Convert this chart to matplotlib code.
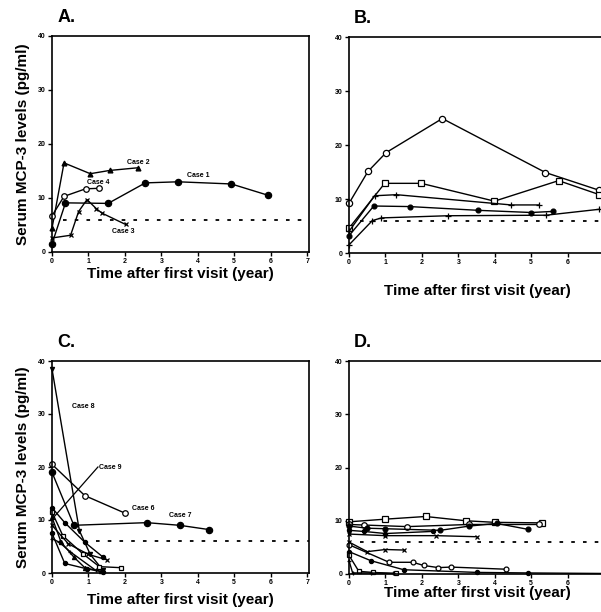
import matplotlib
matplotlib.use("Agg")
import matplotlib.pyplot as plt

plt.rcParams['font.family'] = ['Liberation Sans', 'DejaVu Sans']
plt.rcParams['font.weight'] = 'bold'

# ---- data (years, pg/ml) ----
normal_level = 6.0

# panel A
a_case1_x = [0, 0.37, 1.54, 2.56, 3.46, 4.92, 5.93]
a_case1_y = [1.5, 9.1, 9.0, 12.8, 13.0, 12.6, 10.5]
a_case2_x = [0, 0.33, 1.05, 1.58, 2.36]
a_case2_y = [4.4, 16.5, 14.5, 15.1, 15.6]
a_case3_x = [0, 0.51, 0.73, 0.96, 1.22, 1.37, 2.02]
a_case3_y = [2.6, 3.1, 7.5, 9.7, 8.0, 7.2, 5.1]
a_case4_x = [0, 0.33, 0.92, 1.3]
a_case4_y = [6.7, 10.3, 11.7, 11.8]

# panel B
b1_x = [0, 0.52, 1.02, 2.56, 5.39, 6.87]
b1_y = [9.2, 15.1, 18.6, 24.9, 14.9, 11.6]
b2_x = [0, 0.98, 1.98, 3.99, 5.75, 6.87]
b2_y = [4.6, 12.9, 12.9, 9.6, 13.4, 10.8]
b3_x = [0, 0.7, 1.3, 4.45, 5.2]
b3_y = [4.0, 10.6, 10.8, 8.9, 8.9]
b4_x = [0, 0.68, 1.66, 3.55, 5.0, 5.59]
b4_y = [3.2, 8.7, 8.6, 7.9, 7.5, 7.7]
b5_x = [0, 0.64, 0.89, 2.71, 5.41, 6.87]
b5_y = [1.5, 6.0, 6.5, 6.9, 7.0, 8.1]

# panel C
c_case8_x = [0, 0.75, 1.05, 1.4]
c_case8_y = [38.5, 8.0, 3.5, 0.5]
c_case6_x = [0, 0.9, 2.0]
c_case6_y = [20.5, 14.6, 11.3]
c_case7_x = [0, 0.6, 2.6, 3.5, 4.3]
c_case7_y = [19.0, 9.0, 9.5, 9.0, 8.2]
c4_x = [0, 0.35, 0.9, 1.4]
c4_y = [12.3, 9.5, 5.8, 3.0]
c5_x = [0, 0.3, 0.85, 1.3, 1.9]
c5_y = [11.5, 7.0, 3.6, 1.2, 1.0]
c6_x = [0, 0.45, 1.0, 1.5]
c6_y = [9.0, 5.5, 3.5, 2.5]
c7_x = [0, 0.35, 0.95, 1.4]
c7_y = [7.5, 1.8, 0.8, 0.2]
c8_x = [0, 0.25, 0.6, 0.9, 1.35]
c8_y = [10.5, 5.8, 3.0, 1.0, 0.3]
c9_x = [0, 0.2, 0.5, 1.2]
c9_y = [6.5, 5.8, 4.0, 0.5]

# panel D
d1_x = [0, 1.0, 2.1, 3.2, 4.0, 5.3]
d1_y = [9.8, 10.3, 10.8, 10.0, 9.7, 9.6]
d2_x = [0, 0.4, 1.6, 3.3, 5.2]
d2_y = [9.3, 9.2, 8.9, 9.3, 9.3]
d3_x = [0, 0.5, 1.0, 2.5, 3.3, 4.05, 4.9]
d3_y = [9.0, 8.6, 8.5, 8.2, 9.0, 9.5, 8.4]
d4_x = [0, 1.0, 2.4, 3.5]
d4_y = [7.5, 7.2, 7.2, 7.0]
d5_x = [0, 0.4, 1.0, 2.3]
d5_y = [8.2, 8.0, 7.6, 8.0]
d6_x = [0, 0.5, 1.0, 1.5]
d6_y = [6.0, 4.2, 4.6, 4.5]
d7_x = [0, 1.1, 1.75, 2.05, 2.45, 2.8, 4.3]
d7_y = [5.5, 2.2, 2.2, 1.6, 1.2, 1.3, 0.9]
d8_x = [0, 0.6, 1.5, 3.5, 4.9, 7.0]
d8_y = [4.2, 2.5, 0.8, 0.3, 0.2, 0.1]
d9_x = [0, 0.27, 0.65, 1.3]
d9_y = [3.5, 0.5, 0.3, 0.1]
d10_x = [0, 0.1, 0.6, 1.2]
d10_y = [2.5, 0.2, 0.2, 0.1]

ylabel = "Serum MCP-3 levels (pg/ml)"
xlabel = "Time after first visit (year)"

W, H = 601, 612
fig = plt.figure(figsize=(W / 100, H / 100), dpi=100)


def make_ax(left, top, bottom, letter, xlab_off, show_ylab, dash_start, nticks):
    ax = fig.add_axes([left / W, 1 - bottom / H, 257 / W, (bottom - top) / H])
    ax.set_xlim(0, 7.05)
    ax.set_ylim(0, 40)
    ax.set_xticks(range(nticks))
    ax.set_yticks([0, 10, 20, 30, 40])
    ax.tick_params(direction='out', length=3, width=1, labelsize=5, pad=1.5)
    for sp in ax.spines.values():
        sp.set_linewidth(1.2)
    ax.hlines(normal_level, dash_start, 7.05, colors='black', linewidth=1.3,
              linestyles=(0, (2, 4.5)))
    ax.set_xlabel(xlabel, fontsize=11, fontweight='bold', va='center')
    ax.xaxis.set_label_coords(0.5, -xlab_off / (bottom - top))
    if show_ylab:
        ax.set_ylabel(ylabel, fontsize=11, fontweight='bold', va='center')
        ax.yaxis.set_label_coords(-29 / 257, 0.5)
    ax.text(0.02, 1.045, letter, transform=ax.transAxes, fontsize=13,
            fontweight='bold', va='bottom', ha='left')
    return ax


def series(ax, x, y, marker, filled=True, ms=4):
    ax.plot(x, y, color='black', linewidth=1, marker=marker, markersize=ms,
            markerfacecolor='black' if filled else 'white',
            markeredgecolor='black', markeredgewidth=0.9, clip_on=False)


lab = dict(fontsize=5, fontweight='bold')

# A
ax = make_ax(52, 36, 252, "A.", 22, True, 0.3, 8)
series(ax, a_case1_x, a_case1_y, 'o', True, 4.5)
series(ax, a_case2_x, a_case2_y, '^', True, 3.5)
series(ax, a_case3_x, a_case3_y, 'x', True, 3.5)
series(ax, a_case4_x, a_case4_y, 'o', False, 4)
ax.text(2.05, 16.3, "Case 2", **lab)
ax.text(0.95, 12.6, "Case 4", **lab)
ax.text(3.7, 13.8, "Case 1", **lab)
ax.text(1.65, 3.6, "Case 3", **lab)

# B
ax = make_ax(349, 37, 253, "B.", 38, False, 0.3, 7)
series(ax, b1_x, b1_y, 'o', False, 4.5)
series(ax, b2_x, b2_y, 's', False, 4.5)
series(ax, b3_x, b3_y, '+', True, 4.5)
series(ax, b4_x, b4_y, 'o', True, 3.5)
series(ax, b5_x, b5_y, '+', True, 4)

# C
ax = make_ax(52, 361, 573, "C.", 27, True, 1.2, 8)
series(ax, c_case8_x, c_case8_y, 'v', True, 3)
series(ax, c_case6_x, c_case6_y, 'o', False, 4)
series(ax, c_case7_x, c_case7_y, 'o', True, 4.5)
series(ax, c4_x, c4_y, 'o', True, 3)
series(ax, c5_x, c5_y, 's', False, 3.5)
series(ax, c6_x, c6_y, 'x', True, 3)
series(ax, c7_x, c7_y, 'o', True, 3)
series(ax, c8_x, c8_y, '^', True, 3)
series(ax, c9_x, c9_y, '+', True, 3.5)
ax.plot([0.07, 1.26], [10.7, 20.0], color='black', linewidth=0.9)
ax.text(0.55, 31.2, "Case 8", **lab)
ax.text(1.3, 19.7, "Case 9", **lab)
ax.text(2.2, 11.9, "Case 6", **lab)
ax.text(3.2, 10.5, "Case 7", **lab)

# D
ax = make_ax(349, 361, 574, "D.", 19, False, 0.3, 7)
series(ax, d1_x, d1_y, 's', False, 4)
series(ax, d2_x, d2_y, 'o', False, 4)
series(ax, d3_x, d3_y, 'o', True, 3.5)
series(ax, d4_x, d4_y, 'x', True, 3)
series(ax, d5_x, d5_y, 'o', True, 3)
series(ax, d6_x, d6_y, 'x', True, 3)
series(ax, d7_x, d7_y, 'o', False, 3.5)
series(ax, d8_x, d8_y, 'o', True, 3)
series(ax, d9_x, d9_y, 's', False, 3.5)
series(ax, d10_x, d10_y, '+', True, 3)

fig.savefig("out.png", dpi=100)
